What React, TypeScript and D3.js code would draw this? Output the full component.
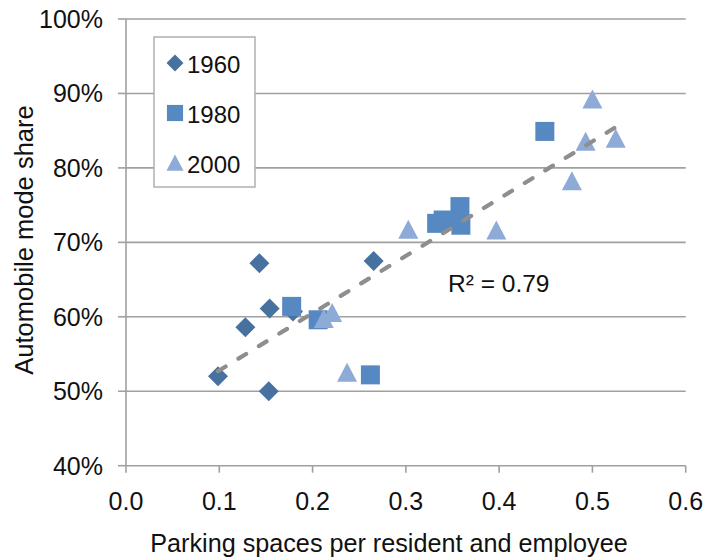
import React from "react";
import * as d3 from "d3";

// x: parking spaces per resident and employee, y: automobile mode share
const x1960 = [0.143, 0.2655, 0.154, 0.128, 0.0986, 0.153, 0.179];
const y1960 = [0.672, 0.675, 0.611, 0.586, 0.52, 0.5, 0.607];

const x1980 = [0.1776, 0.206, 0.262, 0.333, 0.34, 0.358, 0.359, 0.449];
const y1980 = [0.614, 0.596, 0.522, 0.7255, 0.73, 0.748, 0.723, 0.849];

const x2000 = [0.212, 0.221, 0.237, 0.3026, 0.397, 0.5, 0.4927, 0.525, 0.478];
const y2000 = [0.597, 0.605, 0.525, 0.717, 0.716, 0.892, 0.835, 0.839, 0.782];

const xTicks = [0, 0.1, 0.2, 0.3, 0.4, 0.5, 0.6];
const yTicks = [0.4, 0.5, 0.6, 0.7, 0.8, 0.9, 1.0];

const seriesNames = ["1960", "1980", "2000"];
const seriesColors = ["#47729F", "#5688C2", "#8EAAD6"];
const r2Label = "R² = 0.79";

const W = 705;
const H = 557;
const FONT = "'Liberation Sans', Arial, sans-serif";

function markerPath(kind: number, s: number): string {
  if (kind === 0) return `M0,${-s}L${s},0L0,${s}L${-s},0Z`;
  if (kind === 1) return `M${-s * 0.95},${-s * 0.95}H${s * 0.95}V${s * 0.95}H${-s * 0.95}Z`;
  return `M0,${-s}L${s},${s * 0.9}L${-s},${s * 0.9}Z`;
}

export default function App() {
  const x = d3.scaleLinear().domain([0, 0.6]).range([126, 685.7]);
  const y = d3.scaleLinear().domain([0.4, 1.0]).range([465.7, 19]);

  const series = [
    { xs: x1960, ys: y1960 },
    { xs: x1980, ys: y1980 },
    { xs: x2000, ys: y2000 },
  ];

  const allX = [...x1960, ...x1980, ...x2000];
  const allY = [...y1960, ...y1980, ...y2000];
  const mx = d3.mean(allX) as number;
  const my = d3.mean(allY) as number;
  let sxy = 0;
  let sxx = 0;
  allX.forEach((v, i) => {
    sxy += (v - mx) * (allY[i] - my);
    sxx += (v - mx) * (v - mx);
  });
  const slope = sxy / sxx;
  const intercept = my - slope * mx;
  const [minX, maxX] = d3.extent(allX) as [number, number];
  const trend = d3
    .line<number>()
    .x((d) => x(d))
    .y((d) => y(intercept + slope * d))([minX, maxX]);

  const gridColor = "#A0A0A0";
  const fmtPct = d3.format(".0%");

  return (
    <svg
      width={W}
      height={H}
      style={{ position: "absolute", left: 0, top: 0, background: "#fff" }}
      fontFamily={FONT}
    >
      <rect width={W} height={H} fill="#fff" />
      {/* gridlines */}
      {yTicks.slice(1).map((t) => (
        <line key={t} x1={x(0)} x2={x(0.6)} y1={y(t)} y2={y(t)} stroke={gridColor} strokeWidth={1.6} />
      ))}
      {/* axes */}
      <line x1={x(0)} x2={x(0.6)} y1={y(0.4)} y2={y(0.4)} stroke={gridColor} strokeWidth={1.6} />
      <line x1={x(0)} x2={x(0)} y1={y(1.0)} y2={y(0.4)} stroke={gridColor} strokeWidth={1.6} />
      {xTicks.map((t) => (
        <line key={t} x1={x(t)} x2={x(t)} y1={y(0.4)} y2={y(0.4) + 7} stroke={gridColor} strokeWidth={1.6} />
      ))}
      {yTicks.map((t) => (
        <line key={t} x1={x(0) - 8} x2={x(0)} y1={y(t)} y2={y(t)} stroke={gridColor} strokeWidth={1.6} />
      ))}
      {/* tick labels */}
      {xTicks.map((t) => (
        <text key={t} x={x(t)} y={510} textAnchor="middle" fontSize={25} fill="#111">
          {t.toFixed(1)}
        </text>
      ))}
      {yTicks.map((t) => (
        <text key={t} x={103} y={y(t)} dy="0.36em" textAnchor="end" fontSize={25} fill="#111">
          {fmtPct(t)}
        </text>
      ))}
      {/* axis titles */}
      <text x={389} y={552} textAnchor="middle" fontSize={25.2} fill="#111">
        Parking spaces per resident and employee
      </text>
      <text
        transform={`translate(33,240) rotate(-90)`}
        textAnchor="middle"
        fontSize={25.5}
        fill="#111"
      >
        Automobile mode share
      </text>
      {/* points */}
      {series.map((s, k) =>
        s.xs.map((v, i) => (
          <path
            key={`${k}-${i}`}
            transform={`translate(${x(v)},${y(s.ys[i])})`}
            d={markerPath(k, 10)}
            fill={seriesColors[k]}
          />
        ))
      )}
      {/* trendline */}
      <path
        d={trend || ""}
        fill="none"
        stroke="#8E8E8E"
        strokeWidth={4.2}
        strokeDasharray="9,15"
        strokeLinecap="round"
      />
      <text x={448} y={292} fontSize={24.5} fill="#111">
        {r2Label}
      </text>
      {/* legend */}
      <rect x={154} y={37} width={101} height={150} fill="#fff" stroke="#B0B0B0" strokeWidth={1.5} />
      {seriesNames.map((n, k) => (
        <g key={n} transform={`translate(175,${63 + k * 50})`}>
          <path d={markerPath(k, 8.5)} fill={seriesColors[k]} />
          <text x={12} y={10} fontSize={24} fill="#111">
            {n}
          </text>
        </g>
      ))}
    </svg>
  );
}
